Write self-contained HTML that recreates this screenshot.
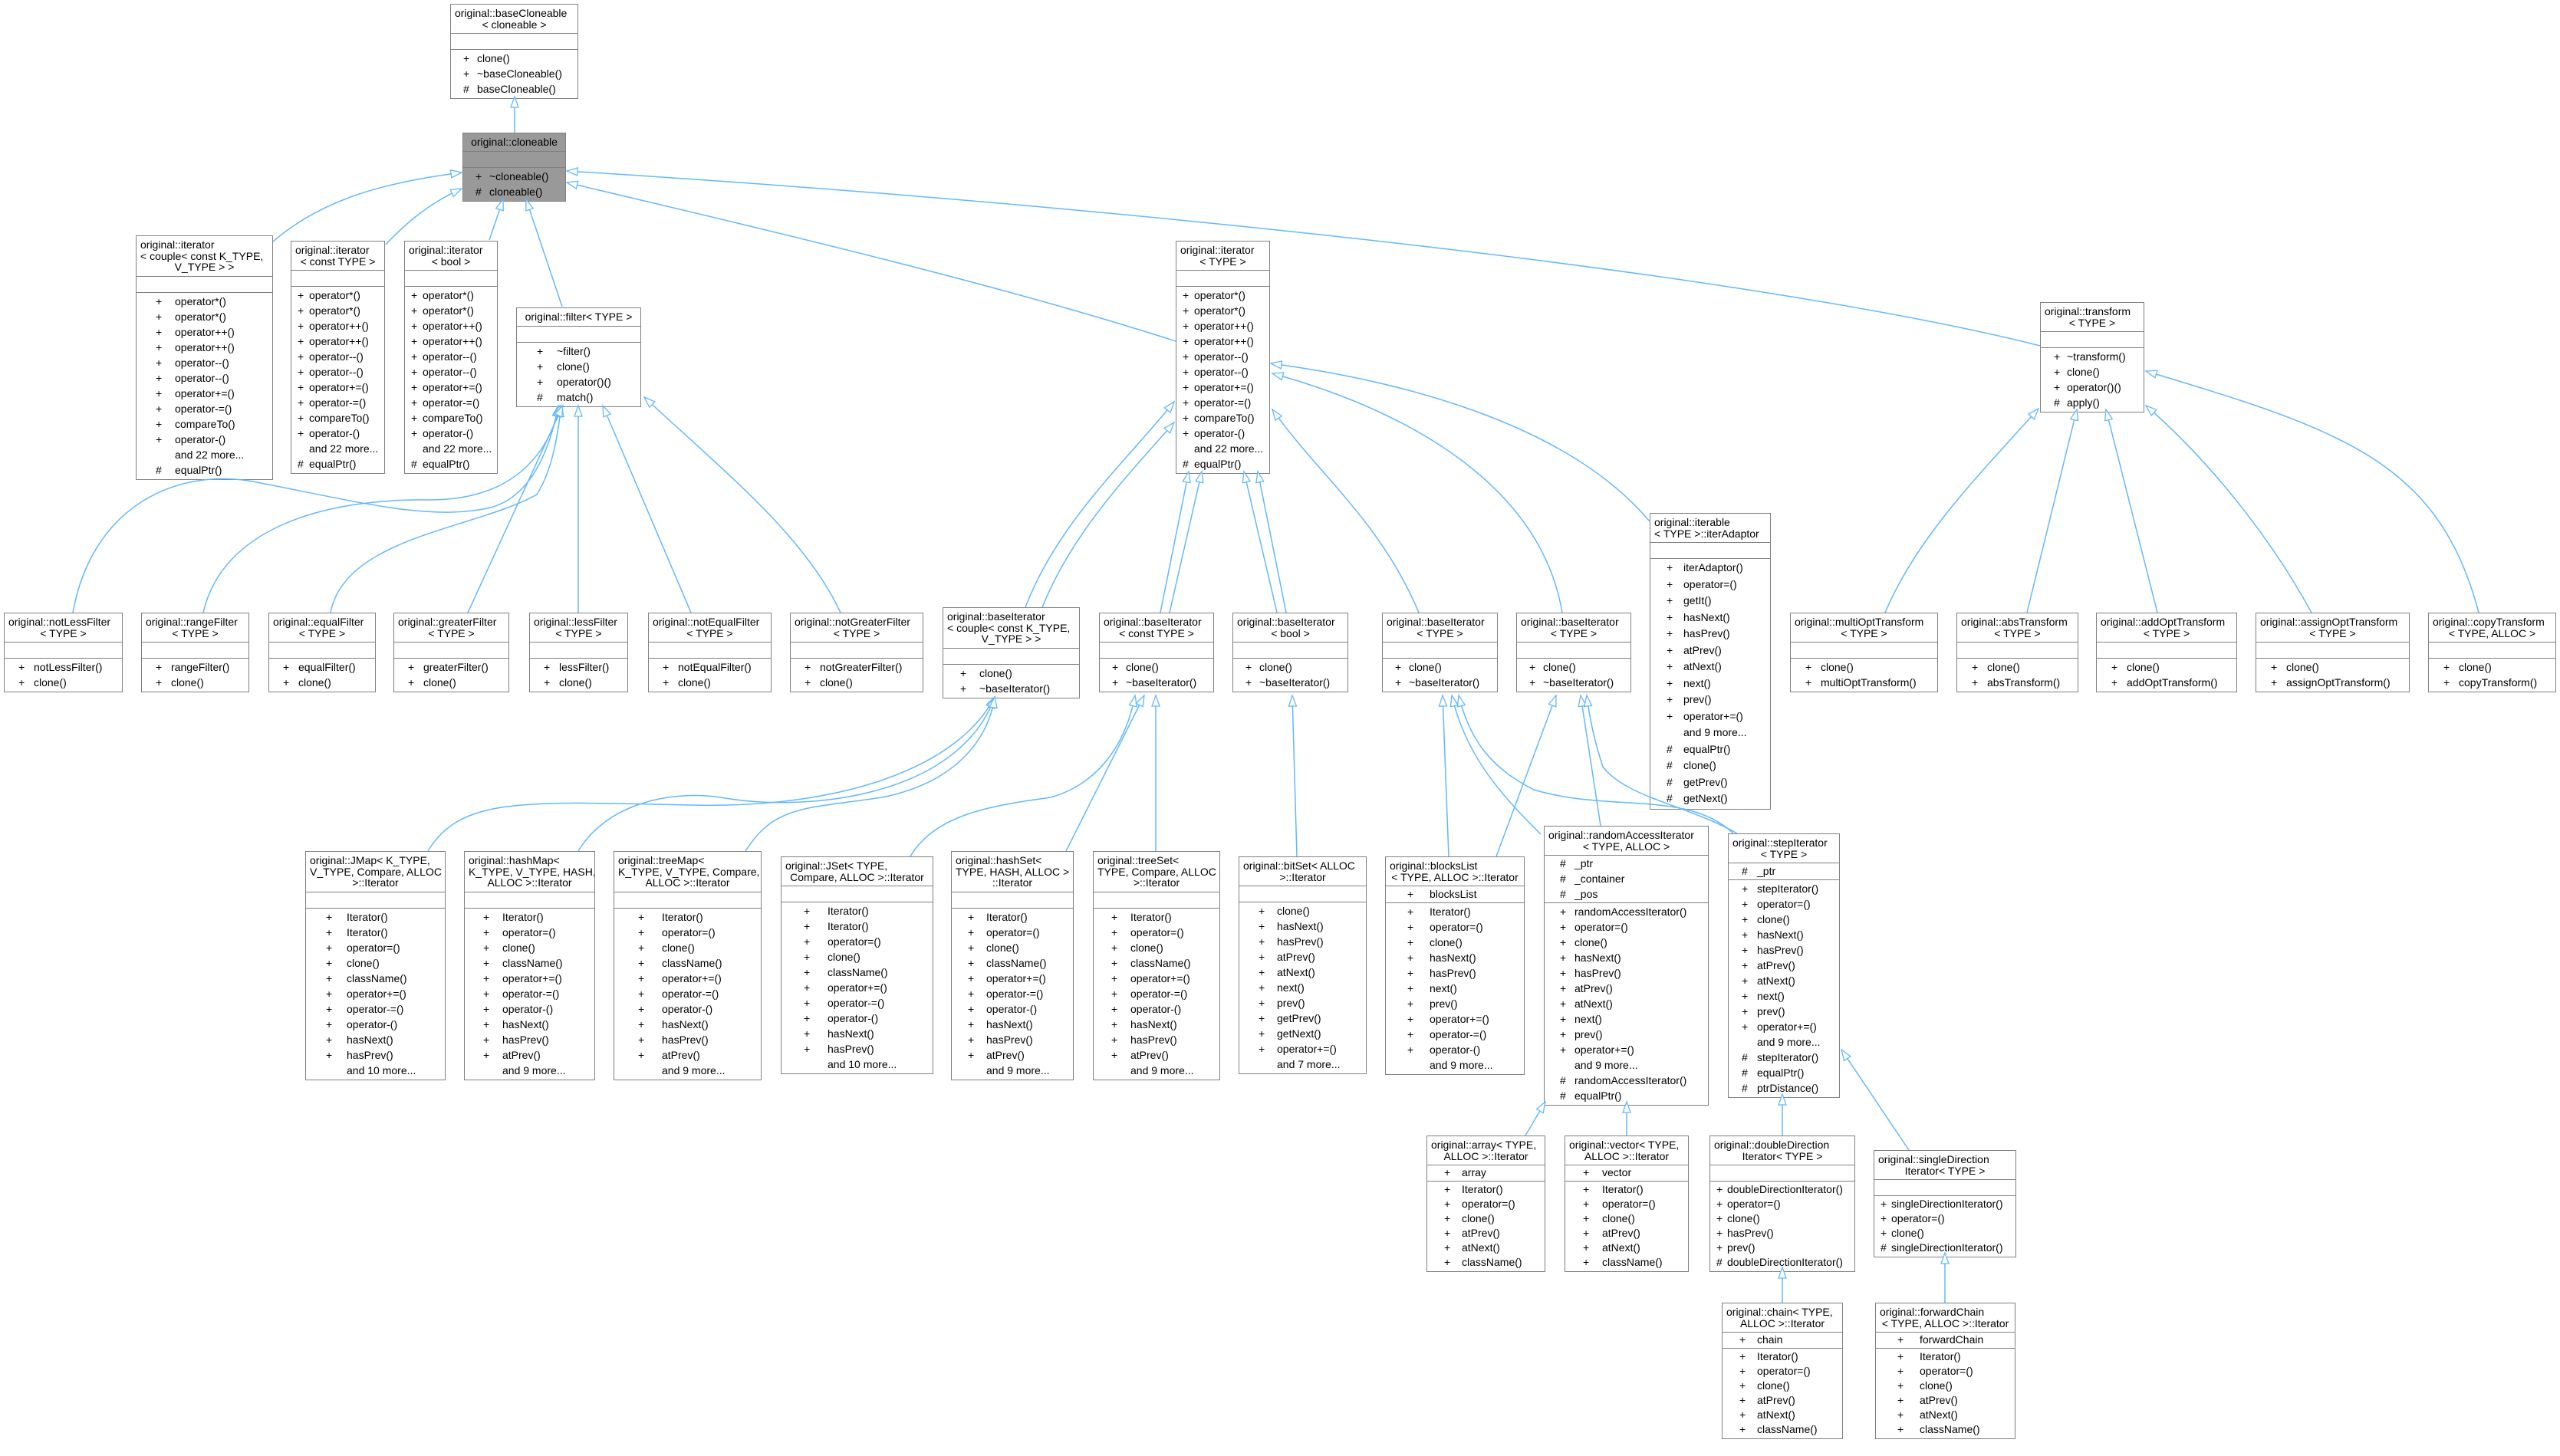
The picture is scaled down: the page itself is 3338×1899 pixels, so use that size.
<!DOCTYPE html>
<html><head><meta charset="utf-8">
<style>
*{margin:0;padding:0;box-sizing:border-box}
body{width:3338px;height:1899px;background:#fff;position:relative;overflow:hidden;font-family:"Liberation Sans",sans-serif;font-size:14px;color:#000}
.b{position:absolute;border:1px solid #808080;background:#fff;--r:20px}
.g{background:#999}
.h{padding:4px 5px;line-height:14.5px;border-bottom:1px solid #808080;white-space:nowrap;overflow:hidden}
.h div:last-child{text-align:center}
.e{height:21px;border-bottom:1px solid #808080}
.at{padding:0 0 1px;border-bottom:1px solid #808080}
.m{padding:1px 0 2px}
.b p{position:relative;height:var(--r);line-height:var(--r);white-space:nowrap}
.b i{position:absolute;left:var(--a);font-style:normal}
.b b{position:absolute;left:var(--n);font-weight:normal}
svg{position:absolute;left:0;top:0}
</style></head><body>

<!-- row 0 -->
<div class="b" style="left:587px;top:5px;width:167px;--a:16px;--n:34px"><div class="h"><div>original::baseCloneable</div><div>&lt; cloneable &gt;</div></div><div class="e"></div><div class="m"><p><i>+</i><b>clone()</b></p><p><i>+</i><b>~baseCloneable()</b></p><p><i>#</i><b>baseCloneable()</b></p></div></div>

<div class="b g" style="left:603px;top:173px;width:135px;--a:16px;--n:34px"><div class="h"><div>original::cloneable</div></div><div class="e"></div><div class="m"><p><i>+</i><b>~cloneable()</b></p><p><i>#</i><b>cloneable()</b></p></div></div>

<!-- row 1 -->
<div class="b" style="left:177px;top:307px;width:179px;--a:25px;--n:50px"><div class="h"><div style="text-align:left">original::iterator</div><div style="text-align:left">&lt; couple&lt; const K_TYPE,</div><div>V_TYPE &gt; &gt;</div></div><div class="e"></div><div class="m"><p><i>+</i><b>operator*()</b></p><p><i>+</i><b>operator*()</b></p><p><i>+</i><b>operator++()</b></p><p><i>+</i><b>operator++()</b></p><p><i>+</i><b>operator--()</b></p><p><i>+</i><b>operator--()</b></p><p><i>+</i><b>operator+=()</b></p><p><i>+</i><b>operator-=()</b></p><p><i>+</i><b>compareTo()</b></p><p><i>+</i><b>operator-()</b></p><p><b>and 22 more...</b></p><p><i>#</i><b>equalPtr()</b></p></div></div>

<div class="b" style="left:379px;top:314px;width:123px;--a:8px;--n:23px"><div class="h"><div>original::iterator</div><div>&lt; const TYPE &gt;</div></div><div class="e"></div><div class="m"><p><i>+</i><b>operator*()</b></p><p><i>+</i><b>operator*()</b></p><p><i>+</i><b>operator++()</b></p><p><i>+</i><b>operator++()</b></p><p><i>+</i><b>operator--()</b></p><p><i>+</i><b>operator--()</b></p><p><i>+</i><b>operator+=()</b></p><p><i>+</i><b>operator-=()</b></p><p><i>+</i><b>compareTo()</b></p><p><i>+</i><b>operator-()</b></p><p><b>and 22 more...</b></p><p><i>#</i><b>equalPtr()</b></p></div></div>

<div class="b" style="left:527px;top:314px;width:122px;--a:8px;--n:23px"><div class="h"><div>original::iterator</div><div>&lt; bool &gt;</div></div><div class="e"></div><div class="m"><p><i>+</i><b>operator*()</b></p><p><i>+</i><b>operator*()</b></p><p><i>+</i><b>operator++()</b></p><p><i>+</i><b>operator++()</b></p><p><i>+</i><b>operator--()</b></p><p><i>+</i><b>operator--()</b></p><p><i>+</i><b>operator+=()</b></p><p><i>+</i><b>operator-=()</b></p><p><i>+</i><b>compareTo()</b></p><p><i>+</i><b>operator-()</b></p><p><b>and 22 more...</b></p><p><i>#</i><b>equalPtr()</b></p></div></div>

<div class="b" style="left:673px;top:401px;width:163px;--a:26px;--n:52px"><div class="h"><div>original::filter&lt; TYPE &gt;</div></div><div class="e"></div><div class="m"><p><i>+</i><b>~filter()</b></p><p><i>+</i><b>clone()</b></p><p><i>+</i><b>operator()()</b></p><p><i>#</i><b>match()</b></p></div></div>

<div class="b" style="left:1533px;top:314px;width:123px;--a:8px;--n:23px"><div class="h"><div>original::iterator</div><div>&lt; TYPE &gt;</div></div><div class="e"></div><div class="m"><p><i>+</i><b>operator*()</b></p><p><i>+</i><b>operator*()</b></p><p><i>+</i><b>operator++()</b></p><p><i>+</i><b>operator++()</b></p><p><i>+</i><b>operator--()</b></p><p><i>+</i><b>operator--()</b></p><p><i>+</i><b>operator+=()</b></p><p><i>+</i><b>operator-=()</b></p><p><i>+</i><b>compareTo()</b></p><p><i>+</i><b>operator-()</b></p><p><b>and 22 more...</b></p><p><i>#</i><b>equalPtr()</b></p></div></div>

<div class="b" style="left:2660px;top:394px;width:136px;--a:17px;--n:34px"><div class="h"><div>original::transform</div><div>&lt; TYPE &gt;</div></div><div class="e"></div><div class="m"><p><i>+</i><b>~transform()</b></p><p><i>+</i><b>clone()</b></p><p><i>+</i><b>operator()()</b></p><p><i>#</i><b>apply()</b></p></div></div>

<div class="b" style="left:2151px;top:669px;width:158px;--a:21px;--n:43px;--r:21.5px"><div class="h"><div style="text-align:left">original::iterable</div><div style="text-align:left">&lt; TYPE &gt;::iterAdaptor</div></div><div class="e"></div><div class="m"><p><i>+</i><b>iterAdaptor()</b></p><p><i>+</i><b>operator=()</b></p><p><i>+</i><b>getIt()</b></p><p><i>+</i><b>hasNext()</b></p><p><i>+</i><b>hasPrev()</b></p><p><i>+</i><b>atPrev()</b></p><p><i>+</i><b>atNext()</b></p><p><i>+</i><b>next()</b></p><p><i>+</i><b>prev()</b></p><p><i>+</i><b>operator+=()</b></p><p><b>and 9 more...</b></p><p><i>#</i><b>equalPtr()</b></p><p><i>#</i><b>clone()</b></p><p><i>#</i><b>getPrev()</b></p><p><i>#</i><b>getNext()</b></p></div></div>

<!-- filters -->
<div class="b" style="left:5px;top:799px;width:155px;--a:18px;--n:38px"><div class="h"><div>original::notLessFilter</div><div>&lt; TYPE &gt;</div></div><div class="e"></div><div class="m"><p><i>+</i><b>notLessFilter()</b></p><p><i>+</i><b>clone()</b></p></div></div>
<div class="b" style="left:184px;top:799px;width:141px;--a:18px;--n:38px"><div class="h"><div>original::rangeFilter</div><div>&lt; TYPE &gt;</div></div><div class="e"></div><div class="m"><p><i>+</i><b>rangeFilter()</b></p><p><i>+</i><b>clone()</b></p></div></div>
<div class="b" style="left:350px;top:799px;width:140px;--a:18px;--n:38px"><div class="h"><div>original::equalFilter</div><div>&lt; TYPE &gt;</div></div><div class="e"></div><div class="m"><p><i>+</i><b>equalFilter()</b></p><p><i>+</i><b>clone()</b></p></div></div>
<div class="b" style="left:513px;top:799px;width:151px;--a:18px;--n:38px"><div class="h"><div>original::greaterFilter</div><div>&lt; TYPE &gt;</div></div><div class="e"></div><div class="m"><p><i>+</i><b>greaterFilter()</b></p><p><i>+</i><b>clone()</b></p></div></div>
<div class="b" style="left:690px;top:799px;width:129px;--a:18px;--n:38px"><div class="h"><div>original::lessFilter</div><div>&lt; TYPE &gt;</div></div><div class="e"></div><div class="m"><p><i>+</i><b>lessFilter()</b></p><p><i>+</i><b>clone()</b></p></div></div>
<div class="b" style="left:845px;top:799px;width:161px;--a:18px;--n:38px"><div class="h"><div>original::notEqualFilter</div><div>&lt; TYPE &gt;</div></div><div class="e"></div><div class="m"><p><i>+</i><b>notEqualFilter()</b></p><p><i>+</i><b>clone()</b></p></div></div>
<div class="b" style="left:1030px;top:799px;width:174px;--a:18px;--n:38px"><div class="h"><div>original::notGreaterFilter</div><div>&lt; TYPE &gt;</div></div><div class="e"></div><div class="m"><p><i>+</i><b>notGreaterFilter()</b></p><p><i>+</i><b>clone()</b></p></div></div>

<!-- baseIterators -->
<div class="b" style="left:1229px;top:792px;width:179px;--a:22px;--n:47px"><div class="h"><div style="text-align:left">original::baseIterator</div><div style="text-align:left">&lt; couple&lt; const K_TYPE,</div><div>V_TYPE &gt; &gt;</div></div><div class="e"></div><div class="m"><p><i>+</i><b>clone()</b></p><p><i>+</i><b>~baseIterator()</b></p></div></div>
<div class="b" style="left:1433px;top:799px;width:150px;--a:16px;--n:34px"><div class="h"><div>original::baseIterator</div><div>&lt; const TYPE &gt;</div></div><div class="e"></div><div class="m"><p><i>+</i><b>clone()</b></p><p><i>+</i><b>~baseIterator()</b></p></div></div>
<div class="b" style="left:1607px;top:799px;width:151px;--a:16px;--n:34px"><div class="h"><div>original::baseIterator</div><div>&lt; bool &gt;</div></div><div class="e"></div><div class="m"><p><i>+</i><b>clone()</b></p><p><i>+</i><b>~baseIterator()</b></p></div></div>
<div class="b" style="left:1802px;top:799px;width:151px;--a:16px;--n:34px"><div class="h"><div>original::baseIterator</div><div>&lt; TYPE &gt;</div></div><div class="e"></div><div class="m"><p><i>+</i><b>clone()</b></p><p><i>+</i><b>~baseIterator()</b></p></div></div>
<div class="b" style="left:1977px;top:799px;width:150px;--a:16px;--n:34px"><div class="h"><div>original::baseIterator</div><div>&lt; TYPE &gt;</div></div><div class="e"></div><div class="m"><p><i>+</i><b>clone()</b></p><p><i>+</i><b>~baseIterator()</b></p></div></div>

<!-- transforms -->
<div class="b" style="left:2334px;top:799px;width:193px;--a:19px;--n:39px"><div class="h"><div>original::multiOptTransform</div><div>&lt; TYPE &gt;</div></div><div class="e"></div><div class="m"><p><i>+</i><b>clone()</b></p><p><i>+</i><b>multiOptTransform()</b></p></div></div>
<div class="b" style="left:2551px;top:799px;width:159px;--a:19px;--n:39px"><div class="h"><div>original::absTransform</div><div>&lt; TYPE &gt;</div></div><div class="e"></div><div class="m"><p><i>+</i><b>clone()</b></p><p><i>+</i><b>absTransform()</b></p></div></div>
<div class="b" style="left:2733px;top:799px;width:184px;--a:19px;--n:39px"><div class="h"><div>original::addOptTransform</div><div>&lt; TYPE &gt;</div></div><div class="e"></div><div class="m"><p><i>+</i><b>clone()</b></p><p><i>+</i><b>addOptTransform()</b></p></div></div>
<div class="b" style="left:2941px;top:799px;width:201px;--a:19px;--n:39px"><div class="h"><div>original::assignOptTransform</div><div>&lt; TYPE &gt;</div></div><div class="e"></div><div class="m"><p><i>+</i><b>clone()</b></p><p><i>+</i><b>assignOptTransform()</b></p></div></div>
<div class="b" style="left:3166px;top:799px;width:167px;--a:19px;--n:39px"><div class="h"><div>original::copyTransform</div><div>&lt; TYPE, ALLOC &gt;</div></div><div class="e"></div><div class="m"><p><i>+</i><b>clone()</b></p><p><i>+</i><b>copyTransform()</b></p></div></div>

<!-- row 4 -->
<div class="b" style="left:398px;top:1110px;width:183px;--a:26px;--n:53px"><div class="h"><div style="text-align:left">original::JMap&lt; K_TYPE,</div><div style="text-align:left">V_TYPE, Compare, ALLOC</div><div>&gt;::Iterator</div></div><div class="e"></div><div class="m"><p><i>+</i><b>Iterator()</b></p><p><i>+</i><b>Iterator()</b></p><p><i>+</i><b>operator=()</b></p><p><i>+</i><b>clone()</b></p><p><i>+</i><b>className()</b></p><p><i>+</i><b>operator+=()</b></p><p><i>+</i><b>operator-=()</b></p><p><i>+</i><b>operator-()</b></p><p><i>+</i><b>hasNext()</b></p><p><i>+</i><b>hasPrev()</b></p><p><b>and 10 more...</b></p></div></div>

<div class="b" style="left:605px;top:1110px;width:171px;--a:24px;--n:49px"><div class="h"><div style="text-align:left">original::hashMap&lt;</div><div style="text-align:left">K_TYPE, V_TYPE, HASH,</div><div>ALLOC &gt;::Iterator</div></div><div class="e"></div><div class="m"><p><i>+</i><b>Iterator()</b></p><p><i>+</i><b>operator=()</b></p><p><i>+</i><b>clone()</b></p><p><i>+</i><b>className()</b></p><p><i>+</i><b>operator+=()</b></p><p><i>+</i><b>operator-=()</b></p><p><i>+</i><b>operator-()</b></p><p><i>+</i><b>hasNext()</b></p><p><i>+</i><b>hasPrev()</b></p><p><i>+</i><b>atPrev()</b></p><p><b>and 9 more...</b></p></div></div>

<div class="b" style="left:800px;top:1110px;width:193px;--a:31px;--n:62px"><div class="h"><div style="text-align:left">original::treeMap&lt;</div><div style="text-align:left">K_TYPE, V_TYPE, Compare,</div><div>ALLOC &gt;::Iterator</div></div><div class="e"></div><div class="m"><p><i>+</i><b>Iterator()</b></p><p><i>+</i><b>operator=()</b></p><p><i>+</i><b>clone()</b></p><p><i>+</i><b>className()</b></p><p><i>+</i><b>operator+=()</b></p><p><i>+</i><b>operator-=()</b></p><p><i>+</i><b>operator-()</b></p><p><i>+</i><b>hasNext()</b></p><p><i>+</i><b>hasPrev()</b></p><p><i>+</i><b>atPrev()</b></p><p><b>and 9 more...</b></p></div></div>

<div class="b" style="left:1018px;top:1117px;width:199px;--a:29px;--n:60px"><div class="h"><div style="text-align:left">original::JSet&lt; TYPE,</div><div>Compare, ALLOC &gt;::Iterator</div></div><div class="e"></div><div class="m"><p><i>+</i><b>Iterator()</b></p><p><i>+</i><b>Iterator()</b></p><p><i>+</i><b>operator=()</b></p><p><i>+</i><b>clone()</b></p><p><i>+</i><b>className()</b></p><p><i>+</i><b>operator+=()</b></p><p><i>+</i><b>operator-=()</b></p><p><i>+</i><b>operator-()</b></p><p><i>+</i><b>hasNext()</b></p><p><i>+</i><b>hasPrev()</b></p><p><b>and 10 more...</b></p></div></div>

<div class="b" style="left:1240px;top:1110px;width:160px;--a:21px;--n:45px"><div class="h"><div style="text-align:left">original::hashSet&lt;</div><div style="text-align:left">TYPE, HASH, ALLOC &gt;</div><div>::Iterator</div></div><div class="e"></div><div class="m"><p><i>+</i><b>Iterator()</b></p><p><i>+</i><b>operator=()</b></p><p><i>+</i><b>clone()</b></p><p><i>+</i><b>className()</b></p><p><i>+</i><b>operator+=()</b></p><p><i>+</i><b>operator-=()</b></p><p><i>+</i><b>operator-()</b></p><p><i>+</i><b>hasNext()</b></p><p><i>+</i><b>hasPrev()</b></p><p><i>+</i><b>atPrev()</b></p><p><b>and 9 more...</b></p></div></div>

<div class="b" style="left:1425px;top:1110px;width:166px;--a:23px;--n:48px"><div class="h"><div style="text-align:left">original::treeSet&lt;</div><div style="text-align:left">TYPE, Compare, ALLOC</div><div>&gt;::Iterator</div></div><div class="e"></div><div class="m"><p><i>+</i><b>Iterator()</b></p><p><i>+</i><b>operator=()</b></p><p><i>+</i><b>clone()</b></p><p><i>+</i><b>className()</b></p><p><i>+</i><b>operator+=()</b></p><p><i>+</i><b>operator-=()</b></p><p><i>+</i><b>operator-()</b></p><p><i>+</i><b>hasNext()</b></p><p><i>+</i><b>hasPrev()</b></p><p><i>+</i><b>atPrev()</b></p><p><b>and 9 more...</b></p></div></div>

<div class="b" style="left:1615px;top:1117px;width:167px;--a:25px;--n:49px"><div class="h"><div style="text-align:left">original::bitSet&lt; ALLOC</div><div>&gt;::Iterator</div></div><div class="e"></div><div class="m"><p><i>+</i><b>clone()</b></p><p><i>+</i><b>hasNext()</b></p><p><i>+</i><b>hasPrev()</b></p><p><i>+</i><b>atPrev()</b></p><p><i>+</i><b>atNext()</b></p><p><i>+</i><b>next()</b></p><p><i>+</i><b>prev()</b></p><p><i>+</i><b>getPrev()</b></p><p><i>+</i><b>getNext()</b></p><p><i>+</i><b>operator+=()</b></p><p><b>and 7 more...</b></p></div></div>

<div class="b" style="left:1806px;top:1117px;width:182px;--a:28px;--n:57px"><div class="h"><div style="text-align:left">original::blocksList</div><div>&lt; TYPE, ALLOC &gt;::Iterator</div></div><div class="at"><p><i>+</i><b>blocksList</b></p></div><div class="m"><p><i>+</i><b>Iterator()</b></p><p><i>+</i><b>operator=()</b></p><p><i>+</i><b>clone()</b></p><p><i>+</i><b>hasNext()</b></p><p><i>+</i><b>hasPrev()</b></p><p><i>+</i><b>next()</b></p><p><i>+</i><b>prev()</b></p><p><i>+</i><b>operator+=()</b></p><p><i>+</i><b>operator-=()</b></p><p><i>+</i><b>operator-()</b></p><p><b>and 9 more...</b></p></div></div>

<div class="b" style="left:2013px;top:1077px;width:215px;--a:20px;--n:39px"><div class="h"><div>original::randomAccessIterator</div><div>&lt; TYPE, ALLOC &gt;</div></div><div class="at"><p><i>#</i><b>_ptr</b></p><p><i>#</i><b>_container</b></p><p><i>#</i><b>_pos</b></p></div><div class="m"><p><i>+</i><b>randomAccessIterator()</b></p><p><i>+</i><b>operator=()</b></p><p><i>+</i><b>clone()</b></p><p><i>+</i><b>hasNext()</b></p><p><i>+</i><b>hasPrev()</b></p><p><i>+</i><b>atPrev()</b></p><p><i>+</i><b>atNext()</b></p><p><i>+</i><b>next()</b></p><p><i>+</i><b>prev()</b></p><p><i>+</i><b>operator+=()</b></p><p><b>and 9 more...</b></p><p><i>#</i><b>randomAccessIterator()</b></p><p><i>#</i><b>equalPtr()</b></p></div></div>

<div class="b" style="left:2253px;top:1087px;width:146px;--a:17px;--n:37px"><div class="h"><div>original::stepIterator</div><div>&lt; TYPE &gt;</div></div><div class="at"><p><i>#</i><b>_ptr</b></p></div><div class="m"><p><i>+</i><b>stepIterator()</b></p><p><i>+</i><b>operator=()</b></p><p><i>+</i><b>clone()</b></p><p><i>+</i><b>hasNext()</b></p><p><i>+</i><b>hasPrev()</b></p><p><i>+</i><b>atPrev()</b></p><p><i>+</i><b>atNext()</b></p><p><i>+</i><b>next()</b></p><p><i>+</i><b>prev()</b></p><p><i>+</i><b>operator+=()</b></p><p><b>and 9 more...</b></p><p><i>#</i><b>stepIterator()</b></p><p><i>#</i><b>equalPtr()</b></p><p><i>#</i><b>ptrDistance()</b></p></div></div>

<!-- row 5 -->
<div class="b" style="left:1860px;top:1481px;width:155px;--a:22px;--n:45px;--r:19px"><div class="h"><div style="text-align:left">original::array&lt; TYPE,</div><div>ALLOC &gt;::Iterator</div></div><div class="at"><p><i>+</i><b>array</b></p></div><div class="m"><p><i>+</i><b>Iterator()</b></p><p><i>+</i><b>operator=()</b></p><p><i>+</i><b>clone()</b></p><p><i>+</i><b>atPrev()</b></p><p><i>+</i><b>atNext()</b></p><p><i>+</i><b>className()</b></p></div></div>

<div class="b" style="left:2040px;top:1481px;width:162px;--a:23px;--n:48px;--r:19px"><div class="h"><div style="text-align:left">original::vector&lt; TYPE,</div><div>ALLOC &gt;::Iterator</div></div><div class="at"><p><i>+</i><b>vector</b></p></div><div class="m"><p><i>+</i><b>Iterator()</b></p><p><i>+</i><b>operator=()</b></p><p><i>+</i><b>clone()</b></p><p><i>+</i><b>atPrev()</b></p><p><i>+</i><b>atNext()</b></p><p><i>+</i><b>className()</b></p></div></div>

<div class="b" style="left:2229px;top:1481px;width:190px;--a:8px;--n:22px;--r:19px"><div class="h"><div>original::doubleDirection</div><div>Iterator&lt; TYPE &gt;</div></div><div class="e"></div><div class="m"><p><i>+</i><b>doubleDirectionIterator()</b></p><p><i>+</i><b>operator=()</b></p><p><i>+</i><b>clone()</b></p><p><i>+</i><b>hasPrev()</b></p><p><i>+</i><b>prev()</b></p><p><i>#</i><b>doubleDirectionIterator()</b></p></div></div>

<div class="b" style="left:2443px;top:1500px;width:186px;--a:8px;--n:22px;--r:19px"><div class="h"><div>original::singleDirection</div><div>Iterator&lt; TYPE &gt;</div></div><div class="e"></div><div class="m"><p><i>+</i><b>singleDirectionIterator()</b></p><p><i>+</i><b>operator=()</b></p><p><i>+</i><b>clone()</b></p><p><i>#</i><b>singleDirectionIterator()</b></p></div></div>

<div class="b" style="left:2245px;top:1699px;width:158px;--a:22px;--n:45px;--r:19px"><div class="h"><div style="text-align:left">original::chain&lt; TYPE,</div><div>ALLOC &gt;::Iterator</div></div><div class="at"><p><i>+</i><b>chain</b></p></div><div class="m"><p><i>+</i><b>Iterator()</b></p><p><i>+</i><b>operator=()</b></p><p><i>+</i><b>clone()</b></p><p><i>+</i><b>atPrev()</b></p><p><i>+</i><b>atNext()</b></p><p><i>+</i><b>className()</b></p></div></div>

<div class="b" style="left:2445px;top:1699px;width:183px;--a:28px;--n:57px;--r:19px"><div class="h"><div style="text-align:left">original::forwardChain</div><div>&lt; TYPE, ALLOC &gt;::Iterator</div></div><div class="at"><p><i>+</i><b>forwardChain</b></p></div><div class="m"><p><i>+</i><b>Iterator()</b></p><p><i>+</i><b>operator=()</b></p><p><i>+</i><b>clone()</b></p><p><i>+</i><b>atPrev()</b></p><p><i>+</i><b>atNext()</b></p><p><i>+</i><b>className()</b></p></div></div>

<svg width="3338" height="1899" viewBox="0 0 3338 1899">
<defs><marker id="a" markerWidth="18" markerHeight="14" refX="16" refY="7" orient="auto" markerUnits="userSpaceOnUse"><path d="M2,2 L16,7 L2,12 Z" fill="#fff" stroke="#63b8ff" stroke-width="1.3"/></marker></defs>
<g fill="none" stroke="#63b8ff" stroke-width="1.5" marker-end="url(#a)">
<path d="M671,173 L671,126"/>
<path d="M356,315 C420,260 500,238 602,225"/>
<path d="M503,319 C530,290 560,265 602,246"/>
<path d="M638,313 L656,260"/>
<path d="M733,400 L686,260"/>
<path d="M1533,445 C1300,370 1000,300 739,238"/>
<path d="M2660,451 C2300,360 1500,270 739,223"/>
<path d="M2151,680 C2050,560 1850,500 1657,474"/>
<!-- filters -->
<path d="M95,799 C120,660 230,610 330,628 C470,655 560,680 640,662 C700,645 720,570 728,529"/>
<path d="M265,799 C290,690 420,650 560,652 C680,652 718,580 730,529"/>
<path d="M431,799 C450,700 620,690 700,645 C722,610 728,560 732,529"/>
<path d="M610,799 L734,529"/>
<path d="M754,799 L754,529"/>
<path d="M901,799 L786,529"/>
<path d="M1096,799 C1050,700 950,620 840,518"/>
<!-- baseIterators to iterator<TYPE> -->
<path d="M1337,792 C1380,680 1470,600 1531,524"/>
<path d="M1359,792 C1400,690 1480,610 1531,551"/>
<path d="M1513,799 L1550,615"/>
<path d="M1525,799 L1567,615"/>
<path d="M1665,799 L1622,615"/>
<path d="M1677,799 L1640,615"/>
<path d="M1850,799 C1800,680 1720,620 1659,534"/>
<path d="M2037,799 C2010,640 1850,540 1659,487"/>
<!-- transforms -->
<path d="M2458,799 C2500,700 2580,620 2658,533"/>
<path d="M2643,799 L2708,534"/>
<path d="M2813,799 L2746,534"/>
<path d="M3014,799 C2960,700 2880,600 2798,529"/>
<path d="M3232,799 C3180,600 3050,560 2798,484"/>
<!-- row4 -->
<path d="M558,1110 C600,1040 680,1045 900,1050 C1100,1055 1250,1000 1297,909"/>
<path d="M754,1110 C790,1050 870,1030 940,1040 C1050,1060 1250,1040 1297,909"/>
<path d="M972,1110 C1010,1050 1050,1055 1150,1040 C1250,1020 1290,960 1297,909"/>
<path d="M1187,1117 C1220,1060 1300,1050 1370,1040 C1440,1020 1470,960 1480,907"/>
<path d="M1390,1110 L1492,907"/>
<path d="M1507,1110 L1507,907"/>
<path d="M1691,1117 L1685,907"/>
<path d="M1889,1117 L1881,907"/>
<path d="M1951,1117 L2029,907"/>
<path d="M2009,1088 C1950,1030 1910,980 1893,907"/>
<path d="M2087,1077 L2061,907"/>
<path d="M2260,1087 C2200,1030 2100,1060 2000,1030 C1940,1000 1915,960 1902,907"/>
<path d="M2265,1087 C2200,1050 2120,1040 2090,1000 C2080,970 2073,940 2069,907"/>
<!-- row5 -->
<path d="M1989,1481 L2015,1437"/>
<path d="M2121,1481 L2121,1437"/>
<path d="M2324,1481 L2324,1427"/>
<path d="M2489,1500 L2401,1369"/>
<path d="M2324,1699 L2324,1653"/>
<path d="M2536,1699 L2536,1634"/>
</g>
</svg>
</body></html>
